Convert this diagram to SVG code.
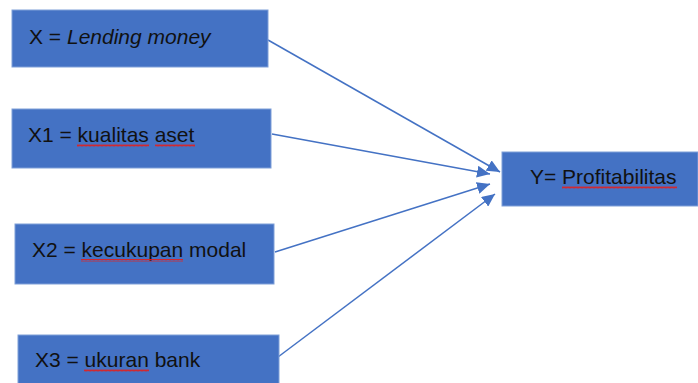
<svg xmlns="http://www.w3.org/2000/svg" width="698" height="383" viewBox="0 0 698 383">
<style>
.box{fill:#4472C4;stroke:#7F9FD8;stroke-width:1}
.t{font-family:"Liberation Sans",Arial,sans-serif;font-size:21px;fill:#111}
.conn{stroke:#4472C4;stroke-width:1.5;fill:none}
</style>
<defs>
<marker id="ah" markerUnits="userSpaceOnUse" markerWidth="14" markerHeight="12" refX="13" refY="6" orient="auto">
<path d="M0,0 L13,6 L0,12 Z" fill="#4472C4"/>
</marker>
<pattern id="wave" width="4" height="3" patternUnits="userSpaceOnUse">
<path d="M0,2.5 L1,0.5 L2,2.5 L3,0.5 L4,2.5" stroke="#E02020" stroke-width="0.9" fill="none"/>
</pattern>
</defs>
<g id="connectors">
<line class="conn" x1="268" y1="40" x2="500" y2="172" marker-end="url(#ah)"/>
<line class="conn" x1="272" y1="134" x2="490" y2="174" marker-end="url(#ah)"/>
<line class="conn" x1="275" y1="252" x2="490" y2="184" marker-end="url(#ah)"/>
<line class="conn" x1="278" y1="357" x2="495" y2="194" marker-end="url(#ah)"/>
</g>
<g id="nodeX">
<rect class="box" x="12" y="10" width="256" height="57"/>
<text class="t" x="29" y="44">X = <tspan font-style="italic">Lending money</tspan></text>
</g>
<g id="nodeX1">
<rect class="box" x="12" y="109" width="259" height="59"/>
<text class="t" x="28" y="142">X1 = kualitas aset</text>
<rect x="77" y="144" width="72" height="3" fill="url(#wave)"/>
<rect x="155" y="144" width="40" height="3" fill="url(#wave)"/>
</g>
<g id="nodeX2">
<rect class="box" x="15" y="224" width="259" height="60"/>
<text class="t" x="32" y="257">X2 = kecukupan modal</text>
<rect x="81" y="259" width="102" height="3" fill="url(#wave)"/>
</g>
<g id="nodeX3">
<rect class="box" x="18" y="335" width="261" height="52"/>
<text class="t" x="35" y="367">X3 = ukuran bank</text>
<rect x="84" y="369" width="65" height="3" fill="url(#wave)"/>
</g>
<g id="nodeY">
<rect class="box" x="502" y="152" width="196" height="54"/>
<text class="t" x="530" y="184">Y= Profitabilitas</text>
<rect x="562" y="186" width="115" height="3" fill="url(#wave)"/>
</g>
</svg>
